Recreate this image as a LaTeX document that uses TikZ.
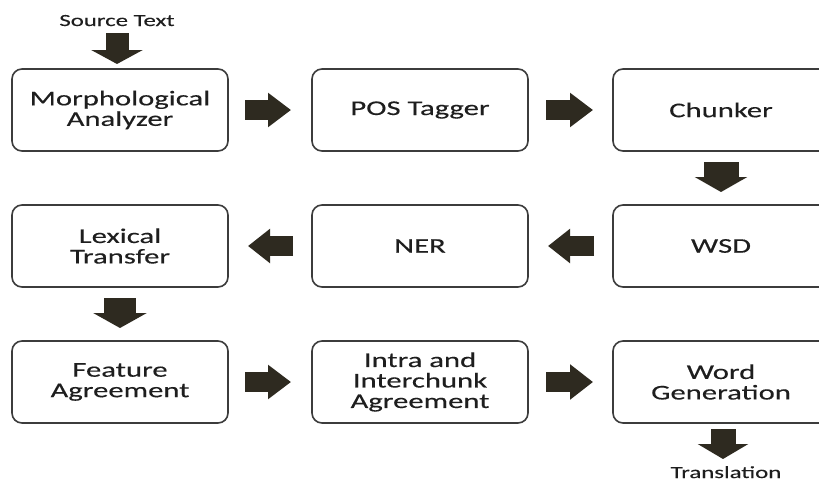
\documentclass[tikz,border=0pt]{standalone}
\usepackage{fontspec}
\setmainfont{Carlito}[FakeStretch=1.46,FakeBold=0.25]
\usetikzlibrary{arrows.meta}
\definecolor{arr}{RGB}{46,42,32}
\definecolor{bord}{RGB}{60,60,60}
\definecolor{txt}{RGB}{30,30,30}
\begin{document}
\begin{tikzpicture}[x=1pt,y=1pt,
  box/.style={draw=bord, line width=1.6pt, rounded corners=10pt, fill=white,
    minimum width=216pt, minimum height=82pt, align=center, inner sep=0pt, outer sep=0pt,
    text=txt, font=\fontsize{21}{20.5}\selectfont},
  lbl/.style={text=txt, inner sep=0pt, outer sep=0pt, anchor=base, font=\fontsize{17}{17}\selectfont},
  blockarrow/.style n args={3}{draw=arr, line width=#1, line cap=butt,
    -{Triangle[length=#3,width=#2]}}
]
\clip (0,0) rectangle (819,-482);
\fill[white] (0,0) rectangle (819,-482);

% row 1
\node[box] (morph) at (120,-110) {Morphological\\Analyzer};
\node[box] (pos)   at (420,-110) {POS Tagger};
\node[box] (chunk) at (721,-110) {Chunker};
% row 2
\node[box] (lex)   at (120,-246) {Lexical\\Transfer};
\node[box] (ner)   at (420,-246) {NER};
\node[box] (wsd)   at (721,-246) {WSD};
% row 3
\node[box] (feat)  at (120,-382) {Feature\\Agreement};
\node[box] (intra) at (420,-382) {Intra and\\Interchunk\\Agreement};
\node[box] (wg)    at (721,-382) {Word\\Generation};

\node[lbl] (src) at (117,-26) {Source Text};
\node[lbl] (trans) at (726,-478) {Translation};

% horizontal arrows
\draw[blockarrow={20pt}{33pt}{23pt}] ([xshift=17pt]morph.east) -- ([xshift=-21pt]pos.west);
\draw[blockarrow={20pt}{33pt}{23pt}] ([xshift=18pt]pos.east) -- ([xshift=-20pt]chunk.west);
\draw[blockarrow={20pt}{33pt}{22pt}] ([xshift=-19pt]wsd.west) -- ([xshift=20pt]ner.east);
\draw[blockarrow={20pt}{33pt}{22pt}] ([xshift=-19pt]ner.west) -- ([xshift=20pt]lex.east);
\draw[blockarrow={20pt}{33pt}{23pt}] ([xshift=17pt]feat.east) -- ([xshift=-21pt]intra.west);
\draw[blockarrow={20pt}{34pt}{23pt}] ([xshift=18pt]intra.east) -- ([xshift=-20pt]wg.west);

% vertical arrows
\draw[blockarrow={23pt}{51pt}{14pt}] ([xshift=-3pt,yshift=36pt]morph.north) -- ([xshift=-3pt,yshift=5pt]morph.north);
\draw[blockarrow={35pt}{52pt}{15pt}] ([yshift=-11pt]chunk.south) -- ([yshift=13pt]wsd.north);
\draw[blockarrow={32pt}{53pt}{15pt}] ([yshift=-11pt]lex.south) -- ([yshift=13pt]feat.north);
\draw[blockarrow={25pt}{50pt}{15pt}] ([xshift=2pt,yshift=-6pt]wg.south) -- ([xshift=2pt,yshift=-36pt]wg.south);
\end{tikzpicture}
\end{document}
